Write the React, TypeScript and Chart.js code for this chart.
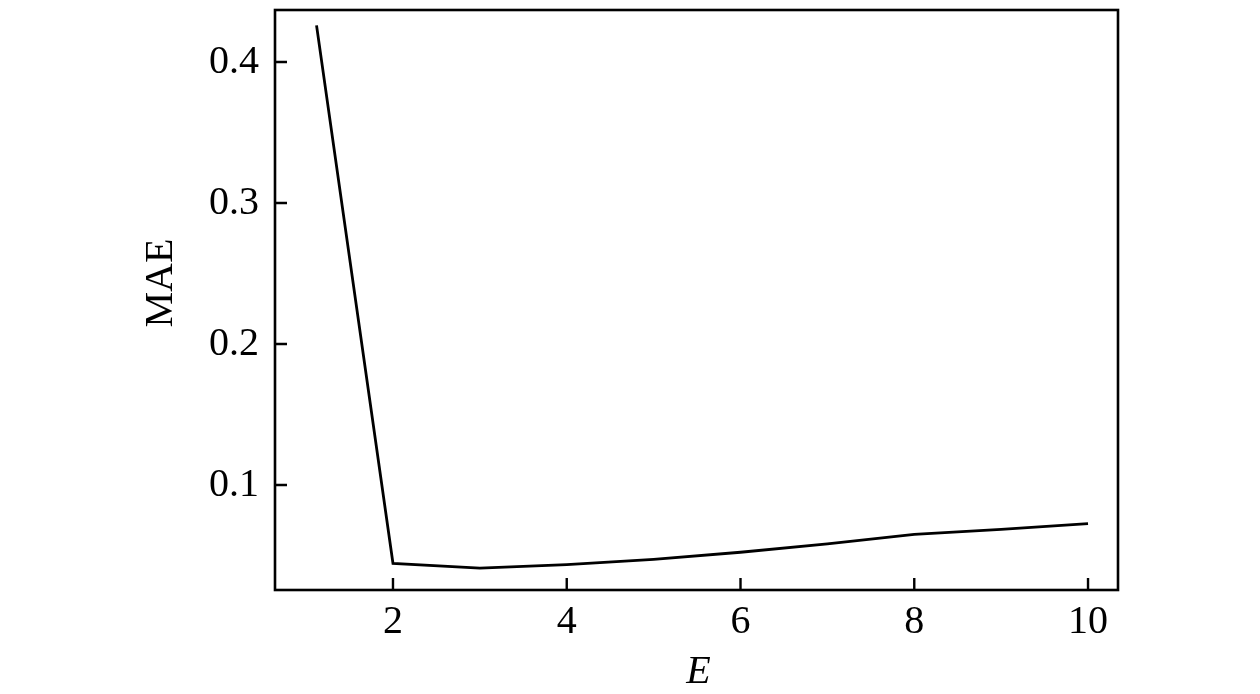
import React, { useEffect, useRef } from "react";
import { Chart, registerables } from "chart.js";

Chart.register(...registerables);

// Data
const eValues = [1.12, 2, 3, 4, 5, 6, 7, 8, 9, 10];
const maeValues = [0.426, 0.0444, 0.041, 0.0435, 0.0473, 0.0523, 0.0582, 0.065, 0.0686, 0.0726];
const xTicks = [2, 4, 6, 8, 10];
const yTicks = [0.1, 0.2, 0.3, 0.4];
const xTitle = "E";
const yTitle = "MAE";

const FONT = '"Liberation Serif", "DejaVu Serif", serif';

const framePlugin = {
  id: "frame",
  afterDraw(chart: any) {
    const { ctx, chartArea: a, scales } = chart;
    ctx.save();
    ctx.strokeStyle = "#000";
    ctx.lineWidth = 2.6;
    ctx.strokeRect(a.left, a.top, a.right - a.left, a.bottom - a.top);
    ctx.beginPath();
    ctx.lineWidth = 2.4;
    xTicks.forEach((v) => {
      const x = scales.x.getPixelForValue(v);
      ctx.moveTo(x, a.bottom);
      ctx.lineTo(x, a.bottom - 12);
    });
    yTicks.forEach((v) => {
      const y = scales.y.getPixelForValue(v);
      ctx.moveTo(a.left, y);
      ctx.lineTo(a.left + 12, y);
    });
    ctx.stroke();

    ctx.fillStyle = "#000";
    ctx.textAlign = "center";
    ctx.textBaseline = "middle";
    ctx.font = `italic 40px ${FONT}`;
    ctx.fillText(xTitle, (a.left + a.right) / 2 + 2, a.bottom + 82);
    ctx.translate(a.left - 114, a.top + 273);
    ctx.rotate(-Math.PI / 2);
    ctx.font = `40px ${FONT}`;
    ctx.fillText(yTitle, 0, 0);
    ctx.restore();
  },
};

export default function App() {
  const ref = useRef<HTMLCanvasElement | null>(null);

  useEffect(() => {
    if (!ref.current) return;
    const zeroPad = (s: any) => {
      s.paddingTop = 0;
      s.paddingBottom = 0;
      s.paddingLeft = 0;
      s.paddingRight = 0;
    };
    const chart = new Chart(ref.current, {
      type: "line",
      data: {
        datasets: [
          {
            data: eValues.map((e, i) => ({ x: e, y: maeValues[i] })),
            borderColor: "#000",
            borderWidth: 2.8,
            pointRadius: 0,
            fill: false,
            tension: 0,
          },
        ],
      },
      options: {
        responsive: false,
        animation: false,
        layout: { padding: { left: 0, top: 10, right: 142, bottom: 0 } },
        plugins: { legend: { display: false }, tooltip: { enabled: false } },
        scales: {
          x: {
            type: "linear",
            min: 0.642,
            max: 10.345,
            grid: { display: false, drawTicks: false },
            border: { display: false },
            afterBuildTicks: (s: any) => {
              s.ticks = xTicks.map((v) => ({ value: v }));
            },
            afterFit: (s: any) => {
              s.height = 104;
              zeroPad(s);
            },
            ticks: {
              color: "#000",
              font: { family: FONT, size: 40 },
              padding: 8,
              maxRotation: 0,
              autoSkip: false,
              callback: (v: any) => String(v),
            },
          },
          y: {
            type: "linear",
            min: 0.02553,
            max: 0.4369,
            grid: { display: false, drawTicks: false },
            border: { display: false },
            afterBuildTicks: (s: any) => {
              s.ticks = yTicks.map((v) => ({ value: v }));
            },
            afterFit: (s: any) => {
              s.width = 275;
              zeroPad(s);
            },
            ticks: {
              color: "#000",
              font: { family: FONT, size: 40 },
              padding: 16,
              autoSkip: false,
              callback: (v: any) => Number(v).toFixed(1),
            },
          },
        },
      },
      plugins: [framePlugin],
    });
    return () => chart.destroy();
  }, []);

  return (
    <div style={{ position: "fixed", left: 0, top: 0, width: 1260, height: 694, background: "#fff" }}>
      <canvas ref={ref} width={1260} height={694} style={{ display: "block" }} />
    </div>
  );
}
